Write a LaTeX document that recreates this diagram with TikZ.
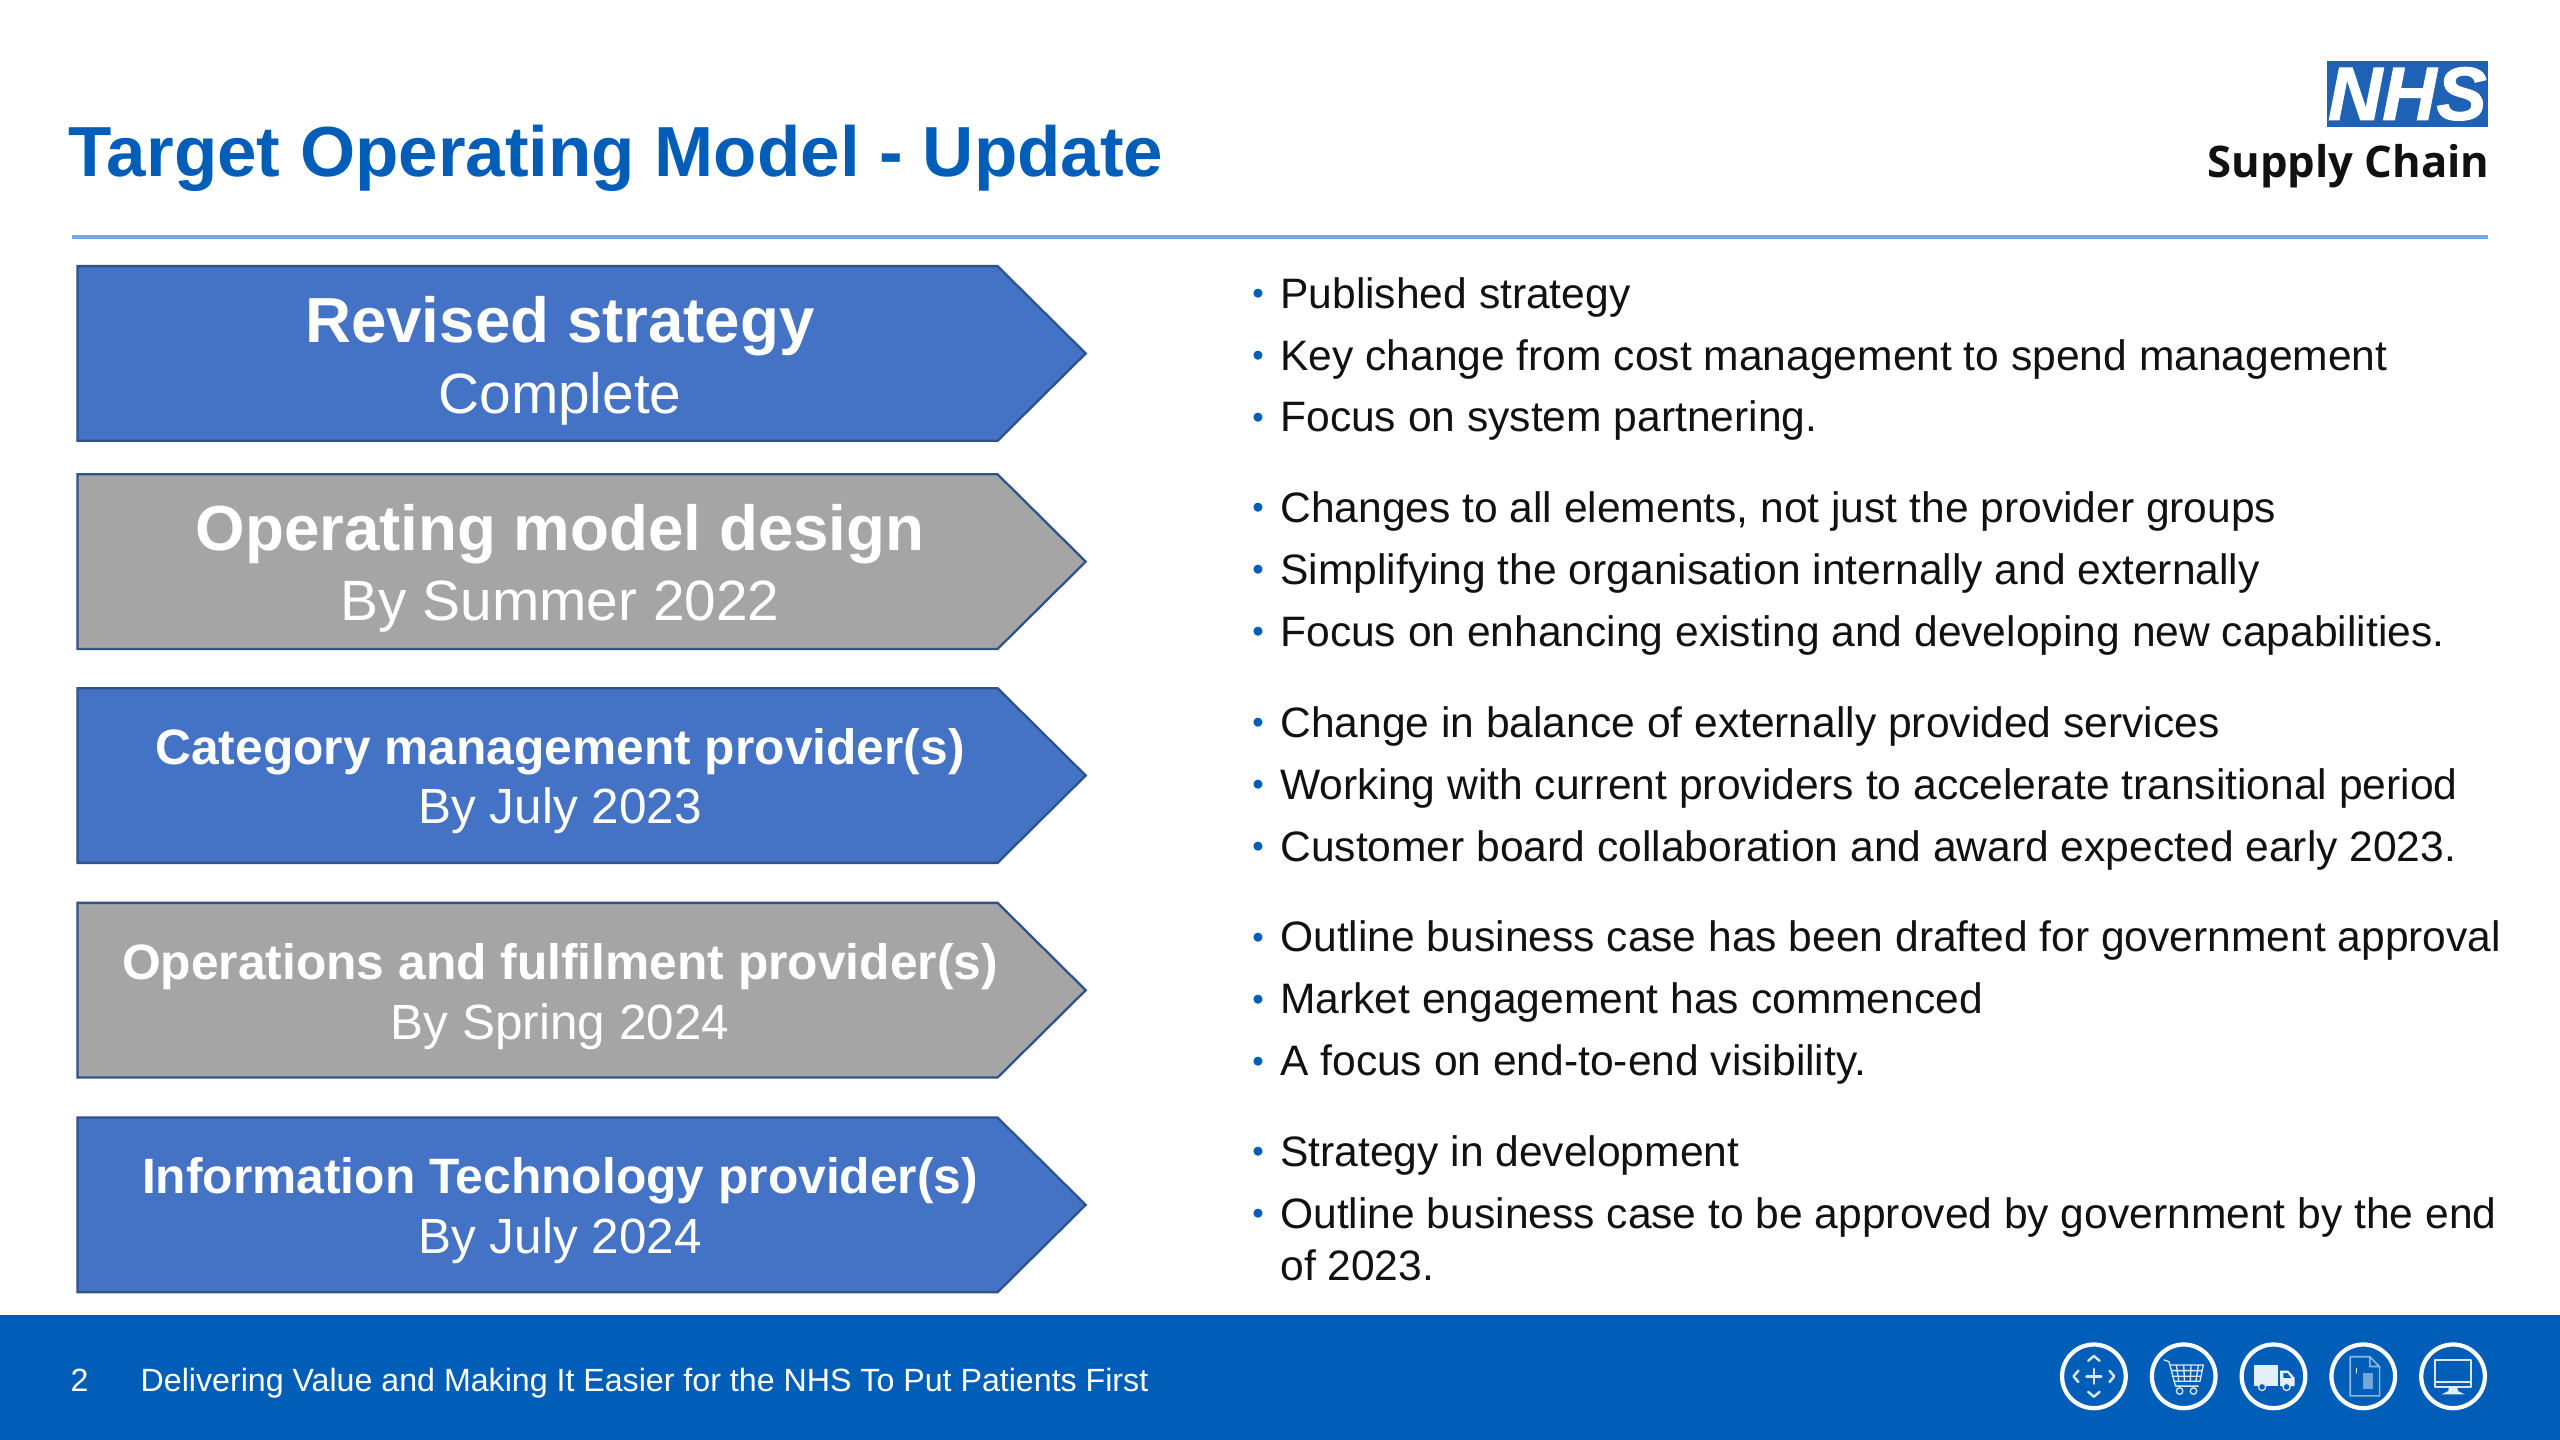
\documentclass[tikz,border=0pt]{standalone}
\usepackage{fontspec}
\setmainfont{Liberation Sans}
\newfontfamily\logofont{Open Sans}
\newfontfamily\nhsfont[BoldItalicFeatures={FakeBold=1.5}]{Liberation Sans}
\definecolor{nhsblue}{HTML}{005EB8}
\definecolor{rulec}{HTML}{76A9DE}
\definecolor{arrowblue}{HTML}{4472C4}
\definecolor{arrowgrey}{HTML}{A5A5A5}
\definecolor{arrowedge}{HTML}{2F528F}
\definecolor{logoblue}{HTML}{1F62B5}
\definecolor{bodytxt}{HTML}{111111}
\newcommand{\fsz}[1]{\fontsize{#1}{#1}\selectfont}
\tikzset{
  x=1pt,y=-1pt,
  titletxt/.style={anchor=base west,inner sep=0,text=nhsblue,font=\fsz{43.45}\bfseries},
  chevron/.style={draw=arrowedge,line width=1.4pt,line join=miter},
  headbig/.style={anchor=base,inner sep=0,text=white,font=\fsz{39}\bfseries},
  subbig/.style={anchor=base,inner sep=0,text=white,font=\fsz{34.8}},
  headsm/.style={anchor=base,inner sep=0,text=white,font=\fsz{30.45}\bfseries},
  subsm/.style={anchor=base,inner sep=0,text=white,font=\fsz{30.3}},
  bul/.style={anchor=center,inner sep=0,text=nhsblue,font=\fsz{20}},
  item/.style={anchor=base west,inner sep=0,text=bodytxt,font=\fsz{26.07},align=left},
  foot/.style={anchor=base west,inner sep=0,text=white,font=\fsz{19.7}},
  ring/.style={circle,draw=white,line width=2.6pt,minimum size=39pt,inner sep=0},
  iconline/.style={draw=white!85!nhsblue,line width=1pt,line cap=round,line join=round},
  iconsolid/.style={fill=white!90!nhsblue,draw=none},
  iconsoft/.style={draw=white!55!nhsblue,fill=none,line width=1pt,line join=round},
}
\begin{document}
\begin{tikzpicture}
\useasboundingbox (0,0) rectangle (1568,882);
\fill[white] (0,0) rectangle (1568,882);
% header
\node[titletxt] (title) at (42,108) {Target Operating Model - Update};
\coordinate (ruleL) at (44,145); \coordinate (ruleR) at (1524,145);
\draw[rulec,line width=2.2pt] (ruleL) -- (ruleR);
% logo
\node[fill=logoblue,minimum width=99pt,minimum height=40pt,inner sep=0] (logo) at (1474.5,57.5) {};
\node[text=white,inner sep=0,font=\nhsfont\fsz{46}\bfseries\itshape] (nhs) at (logo.center) {NHS};
\node[anchor=base east,inner sep=0,text=bodytxt,font=\logofont\fsz{26.7}\bfseries] (sc) at (1525,109) {Supply Chain};
% chevrons
\draw[chevron,fill=arrowblue] (47.5,163) -- (611,163) -- (665,216.5) -- (611,270) -- (47.5,270) -- cycle;
\node[headbig] (a1) at (343,210) {Revised strategy};
\node[subbig] (a1s) at (343,253) {Complete};
\draw[chevron,fill=arrowgrey] (47.5,290.5) -- (611,290.5) -- (665,344) -- (611,397.5) -- (47.5,397.5) -- cycle;
\node[headbig] (a2) at (343,337) {Operating model design};
\node[subbig] (a2s) at (343,380) {By Summer 2022};
\draw[chevron,fill=arrowblue] (47.5,421.5) -- (611,421.5) -- (665,475) -- (611,528.5) -- (47.5,528.5) -- cycle;
\node[headsm] (a3) at (343,468) {Category management provider(s)};
\node[subsm] (a3s) at (343,504.5) {By July 2023};
\draw[chevron,fill=arrowgrey] (47.5,553) -- (611,553) -- (665,606.5) -- (611,660) -- (47.5,660) -- cycle;
\node[headsm] (a4) at (343,600) {Operations and fulfilment provider(s)};
\node[subsm] (a4s) at (343,636.5) {By Spring 2024};
\draw[chevron,fill=arrowblue] (47.5,684.5) -- (611,684.5) -- (665,738) -- (611,791.5) -- (47.5,791.5) -- cycle;
\node[headsm] (a5) at (343,731) {Information Technology provider(s)};
\node[subsm] (a5s) at (343,767.5) {By July 2024};
% bullet lists
\foreach \nm/\yy/\tx in {
 i1/189/{Published strategy},
 i2/227/{Key change from cost management to spend management},
 i3/264.5/{Focus on system partnering.},
 i4/320/{Changes to all elements, not just the provider groups},
 i5/358/{Simplifying the organisation internally and externally},
 i6/396/{Focus on enhancing existing and developing new capabilities.},
 i7/451.5/{Change in balance of externally provided services},
 i8/489.5/{Working with current providers to accelerate transitional period},
 i9/527.5/{Customer board collaboration and award expected early 2023.},
 i10/583/{Outline business case has been drafted for government approval},
 i11/621/{Market engagement has commenced},
 i12/659/{A focus on end-to-end visibility.},
 i13/714.5/{Strategy in development},
 i14/752.5/{Outline business case to be approved by government by the end}}{
  \node[item] (\nm) at (784,\yy) {\tx};
  \node[bul] (b\nm) at (770.5,\yy-7) {•};
}
\node[item] (i15) at (784,784.5) {of 2023.};
% footer
\fill[nhsblue] (0,805.5) rectangle (1568,882);
\node[foot] (pg) at (43,852) {2};
\node[foot] (strap) at (86,852) {Delivering Value and Making It Easier for the NHS To Put Patients First};
% icons
\node[ring] (r1) at (1282.5,843) {};
\node[ring] (r2) at (1337.5,843) {};
\node[ring] (r3) at (1392.5,843) {};
\node[ring] (r4) at (1447.5,843) {};
\node[ring] (r5) at (1502.5,843) {};
\begin{scope}[shift={(r1.center)}]
  \draw[iconline,line width=1.7pt] (-4.5,0) -- (4.5,0) (0,-4.5) -- (0,4.5);
  \draw[iconline,line width=1.5pt] (-3.5,-9.5) -- (0,-12.5) -- (3.5,-9.5) (-3.5,9.5) -- (0,12.5) -- (3.5,9.5)
     (-9.5,-3.5) -- (-12.5,0) -- (-9.5,3.5) (9.5,-3.5) -- (12.5,0) -- (9.5,3.5);
\end{scope}
\begin{scope}[shift={(r2.center)}]
  \draw[iconline,line width=.8pt] (-12,-10) -- (-9,-9) -- (-5,6) -- (9,6);
  \draw[iconline,line width=.8pt] (-8.5,-7) -- (12,-7) -- (10,3) -- (-6,3) (-7.5,-3.5) -- (11.3,-3.5) (-7,0) -- (10.6,0)
    (-4.5,-7) -- (-3,3) (0,-7) -- (0.5,3) (4.5,-7) -- (4,3) (9,-7) -- (7.5,3);
  \draw[iconline,line width=.8pt] (-2.5,9) circle (2) (6,9) circle (2);
\end{scope}
\begin{scope}[shift={(r3.center)}]
  \fill[iconsolid] (-12,-7) rectangle (3,6);
  \fill[iconsolid] (4,-3.5) -- (9,-3.5) -- (13,1) -- (13,6) -- (4,6) -- cycle;
  \fill[nhsblue] (6,-2) -- (8.5,-2) -- (11,1) -- (6,1) -- cycle;
  \draw[iconline,fill=nhsblue,line width=.8pt] (-7,6.5) circle (2.2) (8,6.5) circle (2.2);
\end{scope}
\begin{scope}[shift={(r4.center)}]
  \draw[iconsoft] (-8,-12) -- (4,-12) -- (10,-6) -- (10,12) -- (-8,12) -- cycle (4,-12) -- (4,-6) -- (10,-6);
  \fill[white!45!nhsblue] (0,-2) rectangle (6,8);
  \draw[iconline,line width=.7pt] (-4,-5) -- (-4,-2);
\end{scope}
\begin{scope}[shift={(r5.center)}]
  \draw[iconline,line width=1pt] (-11,-10) rectangle (11,3.5);
  \draw[iconline,line width=1pt] (-11,3.5) rectangle (11,6.5);
  \fill[white!90!nhsblue] (-2.5,6.5) -- (2.5,6.5) -- (3,9) -- (7,11) -- (-7,11) -- (-3,9) -- cycle;
\end{scope}
\end{tikzpicture}
\end{document}
